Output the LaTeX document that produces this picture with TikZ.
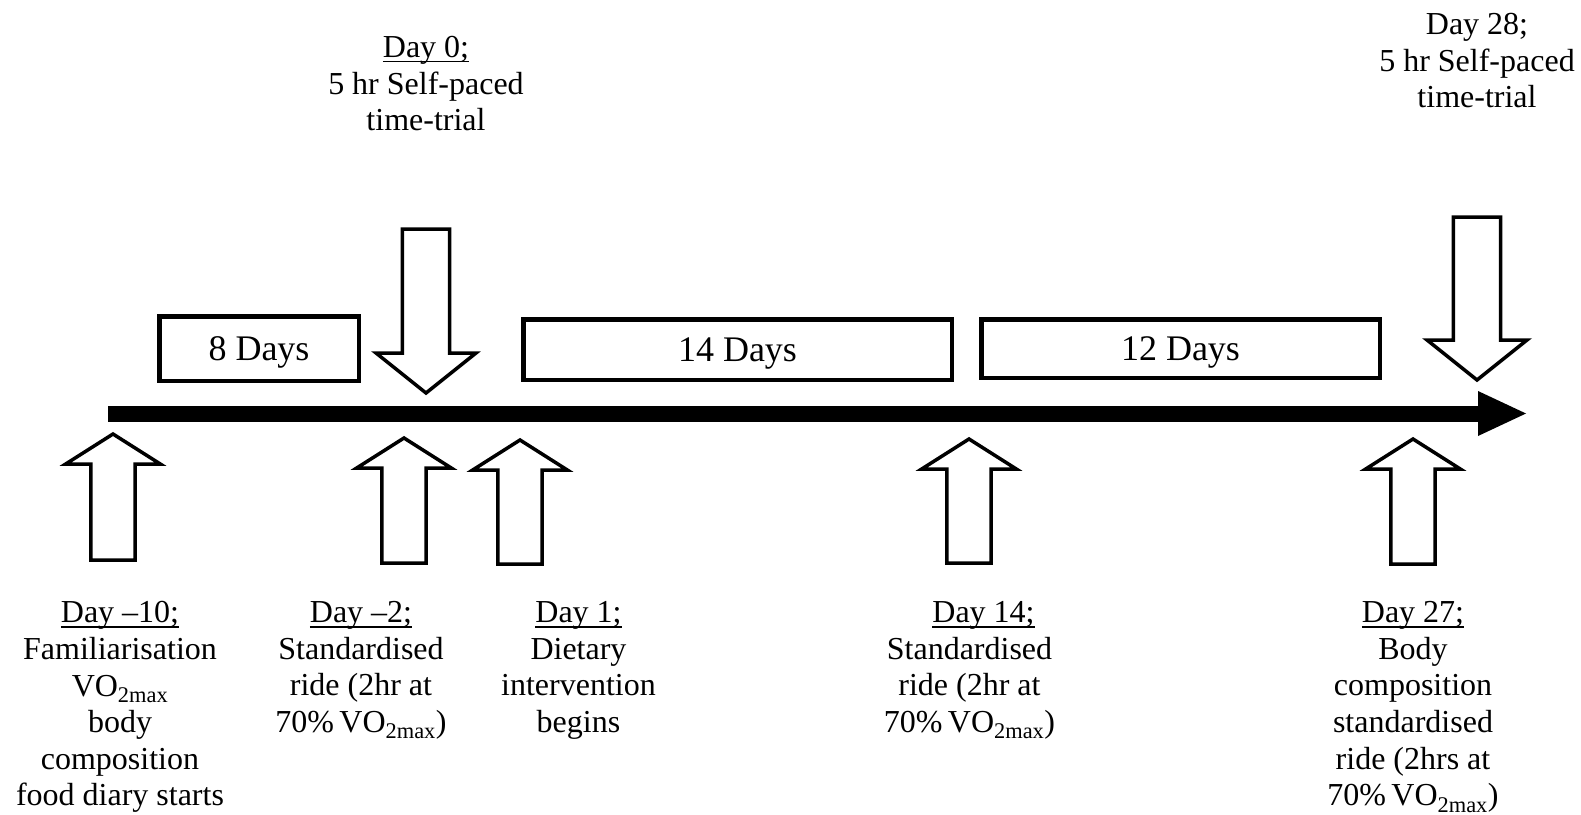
\documentclass[tikz,border=0pt]{standalone}
\usepackage{fontspec}
\setmainfont{Liberation Serif}
\newcommand\dayul[1]{\setbox0\hbox{#1}\rlap{\rule[-5pt]{\wd0}{1.6pt}}\box0}
\newcommand\uparr[3]{\draw[blockarr] (#1,#2) -- ({#1+47.3},{#2+30}) -- ({#1+22.2},{#2+30}) -- ({#1+22.2},#3) -- ({#1-22.2},#3) -- ({#1-22.2},{#2+30}) -- ({#1-47.3},{#2+30}) -- cycle;}
\newcommand\downarr[3]{\draw[blockarr] ({#1-23.7},#2) -- ({#1+23.7},#2) -- ({#1+23.7},{#3-40}) -- ({#1+50},{#3-40}) -- (#1,#3) -- ({#1-50},{#3-40}) -- ({#1-23.7},{#3-40}) -- cycle;}
\begin{document}
\begin{tikzpicture}[x=1pt,y=-1pt,
  blockarr/.style={draw=black, fill=white, line width=3.5pt, line join=miter},
  periodbox/.style={draw=black, line width=4.5pt, inner sep=0pt, font=\fontsize{36}{40}\selectfont, text height=24pt, text depth=0pt},
  daytext/.style={anchor=north, inner sep=0pt, align=center, font=\fontsize{32}{36.6}\selectfont}]
\useasboundingbox (0,0) rectangle (1581,814);

% timeline
\coordinate (tstart) at (108,413.5);
\coordinate (hbase) at (1478,413.5);
\coordinate (tend) at (1526,413.5);
\draw[line width=16pt] (tstart) -- (hbase);
\fill (tend) -- (1478,391) -- (1478,436) -- cycle;

% period boxes
\node[periodbox, minimum width=199.5pt, minimum height=64.5pt] (b8) at (259,348.5) {8 Days};
\node[periodbox, minimum width=428.5pt, minimum height=60.5pt] (b14) at (737.5,349.5) {14 Days};
\node[periodbox, minimum width=398.5pt, minimum height=58.5pt] (b12) at (1180.5,348.5) {12 Days};

% down arrows
\downarr{426}{229}{393}
\downarr{1477}{217}{380}

% up arrows
\uparr{113}{434}{560}
\uparr{404}{438}{563}
\uparr{520}{440}{564}
\uparr{969}{439}{563}
\uparr{1413}{439}{564}

% top labels
\node[daytext] (t0) at (426,36) {\dayul{Day 0;}\\5 hr Self-paced\\time-trial};
\node[daytext] (t28) at (1477,13.3) {Day 28;\\5 hr Self-paced\\time-trial};

% bottom labels
\node[daytext] (l10) at (120,601.4) {\dayul{Day --10;}\\Familiarisation\\VO\textsubscript{2max}\\body\\composition\\food diary starts};
\node[daytext] (l2) at (361,601.4) {\dayul{Day --2;}\\Standardised\\ride (2hr at\\70\%\,VO\textsubscript{2max})};
\node[daytext] (l1) at (578.5,601.4) {\dayul{Day 1;}\\Dietary\\intervention\\begins};
\node[daytext] (l14) at (969.5,601.4) {\hspace*{28pt}\dayul{Day 14;}\\Standardised\\ride (2hr at\\70\%\,VO\textsubscript{2max})};
\node[daytext] (l27) at (1413,601.4) {\dayul{Day 27;}\\Body\\composition\\standardised\\ride (2hrs at\\70\%\,VO\textsubscript{2max})};
\end{tikzpicture}
\end{document}
